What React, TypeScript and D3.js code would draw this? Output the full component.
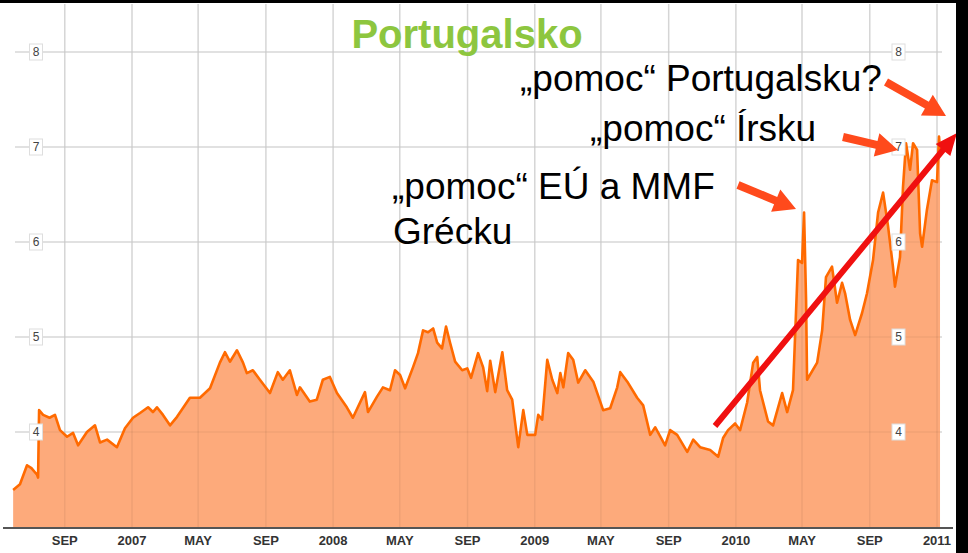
import React from "react";
import * as d3 from "d3";

// 10y Portuguese bond yield (decimal year, %)
const years: number[] = [
  2006.409, 2006.443, 2006.478, 2006.5, 2006.528, 2006.533, 2006.538, 2006.558, 2006.59, 2006.617,
  2006.642, 2006.677, 2006.707, 2006.732, 2006.776, 2006.816, 2006.841, 2006.876, 2006.925, 2006.965,
  2007.005, 2007.04, 2007.08, 2007.104, 2007.124, 2007.154, 2007.189, 2007.224, 2007.288, 2007.338,
  2007.388, 2007.437, 2007.462, 2007.487, 2007.522, 2007.552, 2007.571, 2007.601, 2007.636, 2007.686,
  2007.725, 2007.75, 2007.785, 2007.82, 2007.835, 2007.884, 2007.919, 2007.949, 2007.984, 2008.019,
  2008.068, 2008.098, 2008.158, 2008.173, 2008.217, 2008.247, 2008.282, 2008.307, 2008.332, 2008.357,
  2008.396, 2008.421, 2008.446, 2008.471, 2008.496, 2008.516, 2008.54, 2008.56, 2008.58, 2008.605,
  2008.64, 2008.665, 2008.684, 2008.719, 2008.744, 2008.764, 2008.779, 2008.804, 2008.839, 2008.863,
  2008.888, 2008.918, 2008.943, 2008.963, 2009.002, 2009.017, 2009.037, 2009.062, 2009.087, 2009.112,
  2009.127, 2009.142, 2009.166, 2009.191, 2009.216, 2009.251, 2009.291, 2009.34, 2009.375, 2009.41,
  2009.425, 2009.46, 2009.509, 2009.539, 2009.574, 2009.599, 2009.648, 2009.673, 2009.708, 2009.758,
  2009.788, 2009.822, 2009.872, 2009.912, 2009.937, 2009.961, 2009.996, 2010.021, 2010.056, 2010.086,
  2010.106, 2010.12, 2010.16, 2010.185, 2010.23, 2010.255, 2010.284, 2010.309, 2010.329, 2010.339,
  2010.349, 2010.354, 2010.404, 2010.429, 2010.448, 2010.478, 2010.503, 2010.528, 2010.543, 2010.568,
  2010.593, 2010.627, 2010.652, 2010.682, 2010.707, 2010.732, 2010.757, 2010.781, 2010.791, 2010.816,
  2010.831, 2010.846, 2010.866, 2010.881, 2010.901, 2010.916, 2010.926, 2010.95, 2010.975, 2011.0,
  2011.01, 2011.015,
];

const yields: number[] = [
  3.39, 3.45, 3.65, 3.62, 3.55, 3.52, 4.23, 4.18, 4.15, 4.18,
  4.02, 3.95, 3.99, 3.86, 4.0, 4.07, 3.89, 3.92, 3.84, 4.04,
  4.15, 4.2, 4.26, 4.21, 4.26, 4.18, 4.07, 4.16, 4.36, 4.36,
  4.46, 4.73, 4.84, 4.74, 4.86, 4.73, 4.62, 4.65, 4.55, 4.41,
  4.63, 4.55, 4.65, 4.39, 4.47, 4.32, 4.34, 4.55, 4.58, 4.41,
  4.26, 4.15, 4.42, 4.21, 4.37, 4.47, 4.44, 4.65, 4.6, 4.46,
  4.68, 4.83, 5.07, 5.05, 5.09, 4.94, 4.88, 5.11, 4.94, 4.74,
  4.65, 4.67, 4.57, 4.83, 4.68, 4.43, 4.75, 4.42, 4.84, 4.44,
  4.34, 3.84, 4.23, 3.97, 3.97, 4.18, 4.13, 4.76, 4.55, 4.41,
  4.62, 4.47, 4.83, 4.76, 4.52, 4.65, 4.53, 4.23, 4.25, 4.47,
  4.63, 4.53, 4.36, 4.28, 3.97, 4.05, 3.86, 4.02, 3.97, 3.79,
  3.92, 3.84, 3.81, 3.74, 3.94, 4.02, 4.09, 4.02, 4.31, 4.73,
  4.79, 4.44, 4.11, 4.07, 4.41, 4.21, 4.44, 5.81, 5.78, 6.31,
  5.39, 4.55, 4.73, 5.07, 5.63, 5.74, 5.36, 5.57, 5.46, 5.18,
  5.02, 5.25, 5.46, 5.81, 6.31, 6.52, 6.16, 5.74, 5.53, 5.84,
  6.58, 7.04, 6.76, 7.04, 6.97, 6.09, 5.95, 6.34, 6.65, 6.63,
  7.11, 6.97,
];

const yTicks = [4, 5, 6, 7, 8];
const title = "Portugalsko";
const notes = [
  { text: "„pomoc“ Portugalsku?", x: 520, y: 91 },
  { text: "„pomoc“ Írsku", x: 590, y: 141 },
  { text: "„pomoc“ EÚ a MMF", x: 392, y: 199 },
  { text: "Grécku", x: 393, y: 244 },
];
const arrows = [
  { x1: 886, y1: 82, x2: 946, y2: 116 },
  { x1: 843, y1: 137, x2: 898, y2: 150 },
  { x1: 738, y1: 185, x2: 796, y2: 209 },
];

const W = 968;
const H = 553;
const FONT = "'Liberation Sans', Arial, Helvetica, sans-serif";

function toDate(t: number): Date {
  const yr = Math.floor(t);
  const a = new Date(yr, 0, 1).getTime();
  const b = new Date(yr + 1, 0, 1).getTime();
  return new Date(a + (t - yr) * (b - a));
}

function arrowPath(x1: number, y1: number, x2: number, y2: number, w: number, hw: number, hl: number) {
  const dx = x2 - x1;
  const dy = y2 - y1;
  const len = Math.sqrt(dx * dx + dy * dy);
  const ux = dx / len;
  const uy = dy / len;
  const nx = -uy;
  const ny = ux;
  const bx = x2 - ux * hl;
  const by = y2 - uy * hl;
  const pts = [
    [x1 + nx * w / 2, y1 + ny * w / 2],
    [bx + nx * w / 2, by + ny * w / 2],
    [bx + nx * hw / 2, by + ny * hw / 2],
    [x2, y2],
    [bx - nx * hw / 2, by - ny * hw / 2],
    [bx - nx * w / 2, by - ny * w / 2],
    [x1 - nx * w / 2, y1 - ny * w / 2],
  ];
  return "M" + pts.map((p) => p[0].toFixed(1) + "," + p[1].toFixed(1)).join("L") + "Z";
}

export default function App() {
  const data = years.map((t, i) => ({ date: toDate(t), value: yields[i] }));

  const x = d3
    .scaleTime()
    .domain([new Date(2007, 0, 1), new Date(2011, 0, 1)])
    .range([132, 937]);
  const y = d3.scaleLinear().domain([3, 8]).range([527, 52]);

  const xTicks = d3.timeMonth.every(4)!.range(new Date(2006, 7, 1), new Date(2011, 1, 1));
  const fmt = (d: Date) =>
    d.getMonth() === 0 ? String(d.getFullYear()) : d3.timeFormat("%b")(d).toUpperCase();

  const area = d3
    .area<{ date: Date; value: number }>()
    .x((d) => x(d.date))
    .y0(y(3))
    .y1((d) => y(d.value));
  const line = d3
    .line<{ date: Date; value: number }>()
    .x((d) => x(d.date))
    .y((d) => y(d.value));

  const gridLeft = 15;
  const gridRight = 942;

  const yLabel = (v: number, cx: number) => (
    <g key={"yl" + cx + v}>
      <rect x={cx - 6.5} y={y(v) - 8} width={13} height={16} fill="#fff" stroke="#dedede" strokeWidth={1} />
      <text x={cx} y={y(v) + 4} textAnchor="middle" fontSize={12} fill="#444" fontFamily={FONT}>
        {v}
      </text>
    </g>
  );

  return (
    <svg width={W} height={H} style={{ position: "absolute", left: 0, top: 0, background: "#fff" }}>
      <rect x={0} y={0} width={W} height={H} fill="#fff" />
      {/* grid under */}
      {xTicks.map((d) => (
        <line key={"vg" + d.getTime()} x1={x(d)} x2={x(d)} y1={4} y2={527} stroke="#e3e3e3" strokeWidth={1.5} />
      ))}
      {yTicks.map((v) => (
        <line key={"hg" + v} x1={gridLeft} x2={gridRight} y1={y(v)} y2={y(v)} stroke="#e3e3e3" strokeWidth={1.5} />
      ))}
      <path d={area(data) || ""} fill="#FDAA7B" />
      {/* grid shows faintly through the fill */}
      {xTicks.map((d) => (
        <line key={"vo" + d.getTime()} x1={x(d)} x2={x(d)} y1={4} y2={527} stroke="rgba(0,0,0,0.06)" strokeWidth={1.5} />
      ))}
      {yTicks.map((v) => (
        <line key={"ho" + v} x1={gridLeft} x2={gridRight} y1={y(v)} y2={y(v)} stroke="rgba(0,0,0,0.05)" strokeWidth={1.5} />
      ))}
      <path d={line(data) || ""} fill="none" stroke="#FF6A00" strokeWidth={2.6} strokeLinejoin="round" />

      {/* x axis */}
      <line x1={3} x2={953} y1={528} y2={528} stroke="#555" strokeWidth={2} />
      {xTicks.map((d) => (
        <text
          key={"xl" + d.getTime()}
          x={x(d)}
          y={545}
          textAnchor="middle"
          fontSize={13}
          fontWeight="bold"
          fill="#333"
          fontFamily={FONT}
        >
          {fmt(d)}
        </text>
      ))}

      {yTicks.map((v) => yLabel(v, 36))}
      {yTicks.map((v) => yLabel(v, 898.5))}

      {/* title and notes */}
      <text x={467} y={48} textAnchor="middle" fontSize={40} fontWeight="bold" fill="#8DC63F" fontFamily={FONT}>
        {title}
      </text>
      {notes.map((n) => (
        <text key={n.text} x={n.x} y={n.y} fontSize={37} fill="#000" fontFamily={FONT}>
          {n.text}
        </text>
      ))}
      {arrows.map((a, i) => (
        <path key={"ar" + i} d={arrowPath(a.x1, a.y1, a.x2, a.y2, 8, 24, 22)} fill="#FF4A1C" />
      ))}
      <path d={arrowPath(715, 426, 957, 133, 6, 19, 22)} fill="#F01010" />

      {/* black frame */}
      <rect x={0} y={0} width={W} height={3} fill="#000" />
      <rect x={956} y={0} width={12} height={H} fill="#000" />
    </svg>
  );
}
